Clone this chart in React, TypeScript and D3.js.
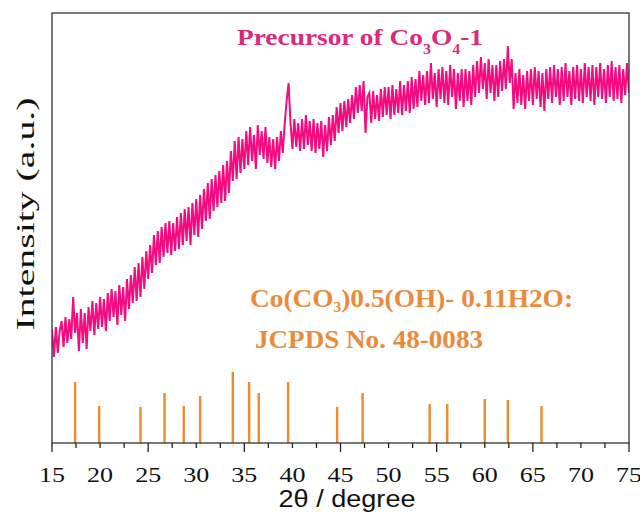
import React from "react";
import * as d3 from "d3";

// ---- data ----
const xStart = 15;
const xStep = 0.2;
// measured XRD intensity (a.u.), one value every 0.2 degree from 15 to 75
const intensity: number[] = [
  114, 86, 116, 90, 112,
  122, 96, 126, 100, 124,
  104, 146, 110, 130, 92,
  134, 100, 130, 94, 136,
  112, 142, 108, 140, 114,
  146, 116, 144, 112, 150,
  122, 154, 126, 152, 118,
  158, 128, 156, 122, 164,
  134, 168, 140, 176, 142,
  180, 146, 186, 154, 192,
  164, 198, 170, 208, 178,
  212, 180, 216, 186, 220,
  190, 222, 188, 220, 192,
  226, 194, 230, 198, 234,
  202, 236, 198, 240, 208,
  244, 206, 248, 214, 254,
  222, 260, 224, 264, 232,
  268, 236, 272, 240, 278,
  242, 282, 250, 292, 262,
  302, 264, 306, 270, 304,
  274, 312, 278, 316, 282,
  308, 274, 318, 288, 312,
  284, 316, 280, 306, 276,
  304, 274, 306, 282, 312,
  290, 320, 342, 360, 320,
  294, 324, 296, 320, 292,
  324, 294, 328, 298, 322,
  292, 324, 290, 320, 294,
  322, 286, 318, 292, 326,
  298, 328, 302, 336, 310,
  340, 312, 342, 316, 344,
  320, 348, 324, 356, 330,
  358, 332, 362, 310, 346,
  350, 320, 352, 324, 348,
  322, 354, 326, 356, 328,
  356, 324, 358, 328, 354,
  330, 362, 328, 358, 332,
  362, 330, 366, 334, 364,
  336, 372, 342, 368, 338,
  372, 340, 380, 344, 370,
  336, 374, 344, 376, 340,
  372, 338, 378, 346, 374,
  334, 370, 342, 374, 336,
  374, 342, 372, 338, 378,
  346, 382, 350, 386, 354,
  380, 344, 384, 350, 378,
  342, 378, 346, 382, 352,
  384, 354, 397, 360, 384,
  334, 370, 340, 374, 338,
  368, 334, 372, 342, 374,
  338, 376, 344, 372, 336,
  370, 332, 374, 344, 376,
  340, 378, 346, 374, 338,
  376, 342, 380, 346, 372,
  338, 376, 344, 378, 342,
  374, 340, 380, 346, 376,
  342, 378, 338, 376, 346,
  380, 344, 374, 340, 378,
  346, 382, 342, 376, 344,
  378, 340, 374, 348, 380,
  350,
];

// JCPDS 48-0083 reference lines
const refPositions: number[] = [17.4, 19.9, 24.2, 26.7, 28.7, 30.4, 33.8, 35.5, 36.5, 39.55, 44.65, 47.3, 54.27, 56.1, 60.0, 62.4, 65.9];
const refHeights: number[] = [61, 37, 36, 50, 37, 47, 71, 61, 50, 61, 36, 50, 39, 39, 44, 43, 37];

const xTickLabels: number[] = [15, 20, 25, 30, 35, 40, 45, 50, 55, 60, 65, 70, 75];
const xMajorTicks: number[] = [15, 25, 35, 45, 55, 65, 75];

const W = 640;
const H = 514;
const left = 52;
const right = 629;
const top = 13;
const bottom = 443;

export default function App() {
  const x = d3.scaleLinear().domain([15, 75]).range([left, right]);
  const y = d3.scaleLinear().domain([0, 430]).range([bottom, top]);

  const pts: [number, number][] = intensity.map((v, i) => [xStart + i * xStep, v]);
  const line = d3
    .line<[number, number]>()
    .x((d) => x(d[0]))
    .y((d) => y(d[1]));

  const minorTicks = d3.range(15, 75.001, 2.5);

  const serif = "'Liberation Serif', 'Times New Roman', serif";
  const sans = "'Liberation Sans', Arial, sans-serif";
  const pink = "#D92A7B";
  const orange = "#E98B3A";

  return (
    <svg width={W} height={H} style={{ position: "absolute", left: 0, top: 0, background: "#fff" }}>
      <defs>
        <clipPath id="plot">
          <rect x={left} y={top} width={right - left} height={bottom - top} />
        </clipPath>
      </defs>
      {/* reference bars */}
      {refPositions.map((p, i) => (
        <line
          key={"b" + i}
          x1={x(p)}
          x2={x(p)}
          y1={y(0)}
          y2={y(refHeights[i])}
          stroke="#EE8A2B"
          strokeWidth={2.4}
        />
      ))}
      {/* XRD curve */}
      <path
        d={line(pts) || ""}
        fill="none"
        stroke="#F50A80"
        strokeWidth={2}
        strokeLinejoin="miter"
        clipPath="url(#plot)"
      />
      {/* frame */}
      <rect x={left} y={top} width={right - left} height={bottom - top} fill="none" stroke="#333" strokeWidth={1.3} />
      {/* ticks */}
      {minorTicks.map((t, i) => {
        const major = xMajorTicks.some((m) => Math.abs(m - t) < 1e-6);
        return (
          <line key={"t" + i} x1={x(t)} x2={x(t)} y1={bottom} y2={bottom + (major ? 9 : 5)} stroke="#222" strokeWidth={1.3} />
        );
      })}
      {xTickLabels.map((t) => (
        <text
          key={"l" + t}
          x={x(t)}
          y={482}
          textAnchor="middle"
          fontFamily={serif}
          fontSize={21}
          fill="#111"
          textLength={26}
          lengthAdjust="spacingAndGlyphs"
        >
          {t}
        </text>
      ))}
      {/* axis titles */}
      <text
        x={347}
        y={507}
        textAnchor="middle"
        fontFamily={sans}
        fontSize={23}
        fill="#111"
        textLength={137}
        lengthAdjust="spacingAndGlyphs"
      >
        2θ / degree
      </text>
      <text
        transform="translate(34,214) rotate(-90)"
        textAnchor="middle"
        fontFamily={serif}
        fontSize={25}
        fill="#111"
        textLength={233}
        lengthAdjust="spacingAndGlyphs"
      >
        Intensity (a.u.)
      </text>
      {/* title */}
      <text x={237} y={45} fontFamily={serif} fontSize={24} fontWeight="bold" fill={pink} textLength={246} lengthAdjust="spacingAndGlyphs">
        Precursor of Co
        <tspan fontSize={14} dy={9}>3</tspan>
        <tspan dy={-9}>O</tspan>
        <tspan fontSize={14} dy={9}>4</tspan>
        <tspan dy={-9}>-1</tspan>
      </text>
      {/* reference legend */}
      <text x={250} y={307} fontFamily={serif} fontSize={25} fontWeight="bold" fill={orange} textLength={323} lengthAdjust="spacingAndGlyphs">
        Co(CO
        <tspan fontSize={14} dy={5}>3</tspan>
        <tspan dy={-5}>)0.5(OH)- 0.11H2O:</tspan>
      </text>
      <text x={255} y={348} fontFamily={serif} fontSize={25} fontWeight="bold" fill={orange} textLength={228} lengthAdjust="spacingAndGlyphs">
        JCPDS No. 48-0083
      </text>
    </svg>
  );
}
